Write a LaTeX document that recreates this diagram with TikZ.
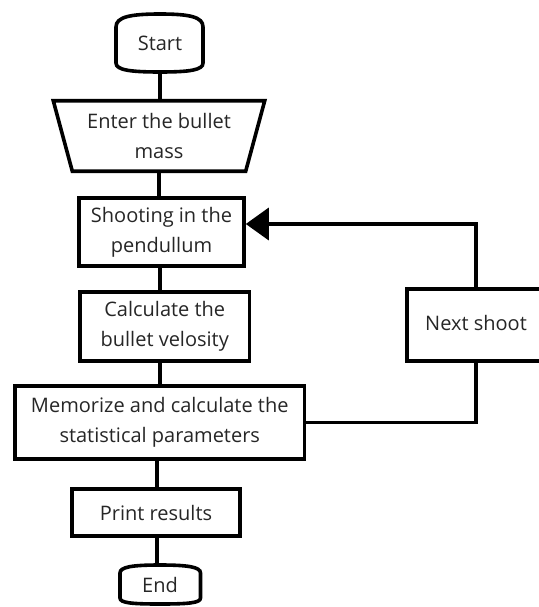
\documentclass[tikz,border=0pt]{standalone}
\usepackage{fontspec}
\setmainfont{Open Sans}
\usetikzlibrary{arrows.meta,calc}
\begin{document}
\begin{tikzpicture}[x=1pt,y=-1pt,
  lw/.style={line width=3.6pt,line join=miter},
  txt/.style={text=black!85,font=\fontsize{20}{30}\selectfont,align=center,inner sep=0pt},
  box/.style={txt,lw,draw,rectangle},
  conn/.style={lw}]
\useasboundingbox (0,0) rectangle (538,607);
% Start
\node[txt,minimum width=87pt,minimum height=58pt] (start) at (160,43) {Start};
\draw[lw] (116,63) -- (116,27) .. controls (116,17) and (130,14) .. (160,14)
  .. controls (190,14) and (203,17) .. (203,27) -- (203,63)
  .. controls (203,70) and (190,72) .. (160,72)
  .. controls (130,72) and (116,70) .. (116,63) -- cycle;
% Enter
\node[txt,minimum width=173pt,minimum height=70pt] (enter) at (159,136) {Enter the bullet\\mass};
\draw[lw] ([xshift=-19pt]enter.north west) -- ([xshift=19pt]enter.north east)
  -- (enter.south east) -- (enter.south west) -- cycle;
% boxes
\node[box,minimum width=165pt,minimum height=68pt] (shoot) at (161.5,232) {Shooting in the\\pendullum};
\node[box,minimum width=169.5pt,minimum height=69pt] (calc) at (164.75,326.5) {Calculate the\\bullet velosity};
\node[box,minimum width=138pt,minimum height=72pt] (next) at (476,325) {\raisebox{5pt}{Next shoot}};
\node[box,minimum width=289.5pt,minimum height=73pt] (memo) at (159.75,422.5) {Memorize and calculate the\\statistical parameters};
\node[box,minimum width=168pt,minimum height=47pt] (print) at (156,512.5) {Print results};
% End
\node[txt,minimum width=80pt,minimum height=39pt] (end) at (160,584.5) {End};
\draw[lw] (120,598) -- (120,573) .. controls (120,567) and (132,565) .. (160,565)
  .. controls (188,565) and (200.5,567) .. (200.5,573) -- (200.5,598)
  .. controls (200.5,603) and (188,604) .. (160,604)
  .. controls (132,604) and (120,603) .. (120,598) -- cycle;
% connectors
\draw[conn] (start.south) -- (start.south |- enter.north);
\draw[conn] (enter.south) -- (enter.south |- shoot.north);
\draw[conn] (160,268) -- (160,290);
\draw[conn] (160,363) -- (160,384);
\draw[conn] (157,461) -- (157,487);
\draw[conn] (157,538) -- (157,565);
\draw[conn] (memo.east) -| (next.south);
\draw[conn,-{Triangle[length=23pt,width=32pt]}] (next.north) |- ([yshift=8pt]shoot.east);
\end{tikzpicture}
\end{document}
